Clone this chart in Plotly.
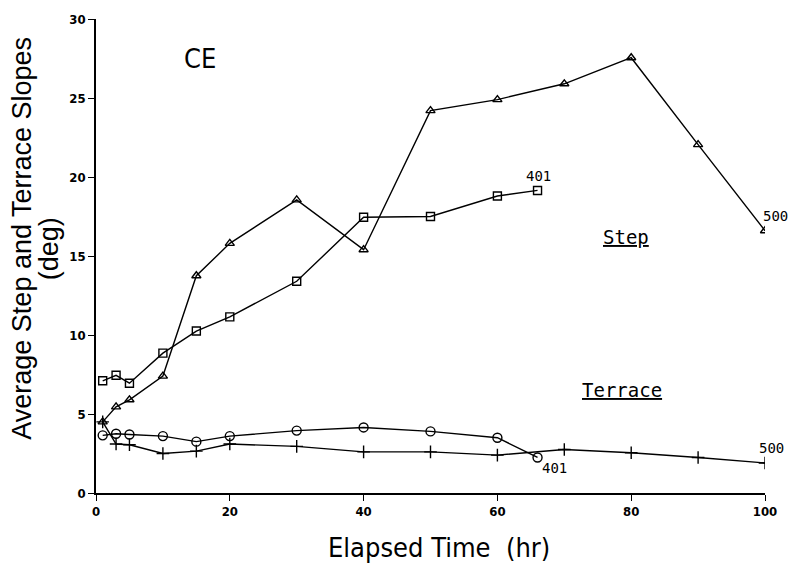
import plotly.graph_objects as go

# Step slope, run 500 (triangles)
step500_t = [1, 3, 5, 10, 15, 20, 30, 40, 50, 60, 70, 80, 90, 100]
step500_y = [4.5, 5.45, 5.9, 7.4, 13.75, 15.8, 18.55, 15.4, 24.2, 24.9, 25.9, 27.55, 22.05, 16.6]

# Step slope, run 401 (squares)
step401_t = [1, 3, 5, 10, 15, 20, 30, 40, 50, 60, 66]
step401_y = [7.1, 7.45, 6.95, 8.85, 10.25, 11.15, 13.4, 17.45, 17.5, 18.8, 19.15]

# Terrace slope, run 401 (circles)
terr401_t = [1, 3, 5, 10, 15, 20, 30, 40, 50, 60, 66]
terr401_y = [3.65, 3.75, 3.7, 3.6, 3.25, 3.6, 3.95, 4.15, 3.9, 3.5, 2.25]

# Terrace slope, run 500 (plus)
terr500_t = [1, 3, 5, 10, 15, 20, 30, 40, 50, 60, 70, 80, 90, 100]
terr500_y = [4.5, 3.1, 3.05, 2.5, 2.65, 3.1, 2.95, 2.6, 2.6, 2.4, 2.75, 2.55, 2.25, 1.9]

x_ticks = [0, 20, 40, 60, 80, 100]
y_ticks = [0, 5, 10, 15, 20, 25, 30]

line = dict(color='black', width=1.4)
fig = go.Figure()

fig.add_trace(go.Scatter(x=step500_t, y=step500_y, mode='lines+markers', line=line,
                         marker=dict(symbol='triangle-up-open', size=8, color='black', line=dict(width=1.4))))
fig.add_trace(go.Scatter(x=step401_t, y=step401_y, mode='lines+markers', line=line,
                         marker=dict(symbol='square-open', size=8, color='black', line=dict(width=1.4))))
fig.add_trace(go.Scatter(x=terr401_t, y=terr401_y, mode='lines+markers', line=line,
                         marker=dict(symbol='circle-open', size=9, color='black', line=dict(width=1.4))))
fig.add_trace(go.Scatter(x=terr500_t, y=terr500_y, mode='lines+markers', line=line,
                         marker=dict(symbol='cross-thin-open', size=9, color='black', line=dict(width=1.4))))

# run labels at the series ends
lab = dict(family='DejaVu Sans Mono', size=14, color='black')
fig.add_annotation(x=step401_t[-1], y=step401_y[-1], text='401', showarrow=False,
                   font=lab, yshift=14, xshift=1)
fig.add_annotation(x=step500_t[-1], y=step500_y[-1], text='500', showarrow=False,
                   font=lab, yshift=15, xshift=10)
fig.add_annotation(x=terr401_t[-1], y=terr401_y[-1], text='401', showarrow=False,
                   font=lab, yshift=-11, xshift=17)
fig.add_annotation(x=terr500_t[-1], y=terr500_y[-1], text='500', showarrow=False,
                   font=lab, yshift=15, xshift=6)

big = dict(family='DejaVu Sans Mono', size=19, color='black')
fig.add_annotation(x=79.2, y=16.2, text='<u>Step</u>', showarrow=False, font=big)
fig.add_annotation(x=78.6, y=6.5, text='<u>Terrace</u>', showarrow=False, font=big)
fig.add_annotation(x=15.5, y=27.5, text='CE', showarrow=False,
                   font=dict(family='DejaVu Sans Condensed', size=27, color='black'))

# axis titles
fig.add_annotation(xref='paper', yref='paper', x=0.513, y=-0.116, xanchor='center', yanchor='middle',
                   text='Elapsed Time  (hr)', showarrow=False,
                   font=dict(family='DejaVu Sans Condensed', size=27, color='black'))
fig.add_annotation(xref='paper', yref='paper', x=-0.111, y=0.538, xanchor='center', yanchor='middle',
                   textangle=-90, text='Average Step and Terrace Slopes', showarrow=False,
                   font=dict(family='Liberation Sans, Arial', size=27, color='black'))
fig.add_annotation(xref='paper', yref='paper', x=-0.069, y=0.516, xanchor='center', yanchor='middle',
                   textangle=-90, text='(deg)', showarrow=False,
                   font=dict(family='Liberation Sans, Arial', size=27, color='black'))

tickfont = dict(family='Liberation Sans Narrow, DejaVu Sans Condensed', size=13,
                color='black', weight='bold')
fig.update_layout(
    width=791, height=565,
    margin=dict(l=96, r=26, t=12, b=72),
    paper_bgcolor='white', plot_bgcolor='white',
    showlegend=False,
    xaxis=dict(range=[0, 100], tickvals=x_ticks, showgrid=False, zeroline=False,
               showline=True, linecolor='black', linewidth=1.5,
               ticks='outside', ticklen=6, tickwidth=1.3, tickcolor='black',
               tickfont=tickfont, ticklabeloverflow='allow'),
    yaxis=dict(range=[0, 30], tickvals=y_ticks, showgrid=False, zeroline=False,
               showline=True, linecolor='black', linewidth=1.5,
               ticks='outside', ticklen=6, tickwidth=1.3, tickcolor='black',
               tickfont=tickfont, ticklabeloverflow='allow'),
)

# drop the default page margin so the figure sits at the window's corner
fig.write_html("out.html", config={'displayModeBar': False},
               post_script="document.body.style.margin='0';")
